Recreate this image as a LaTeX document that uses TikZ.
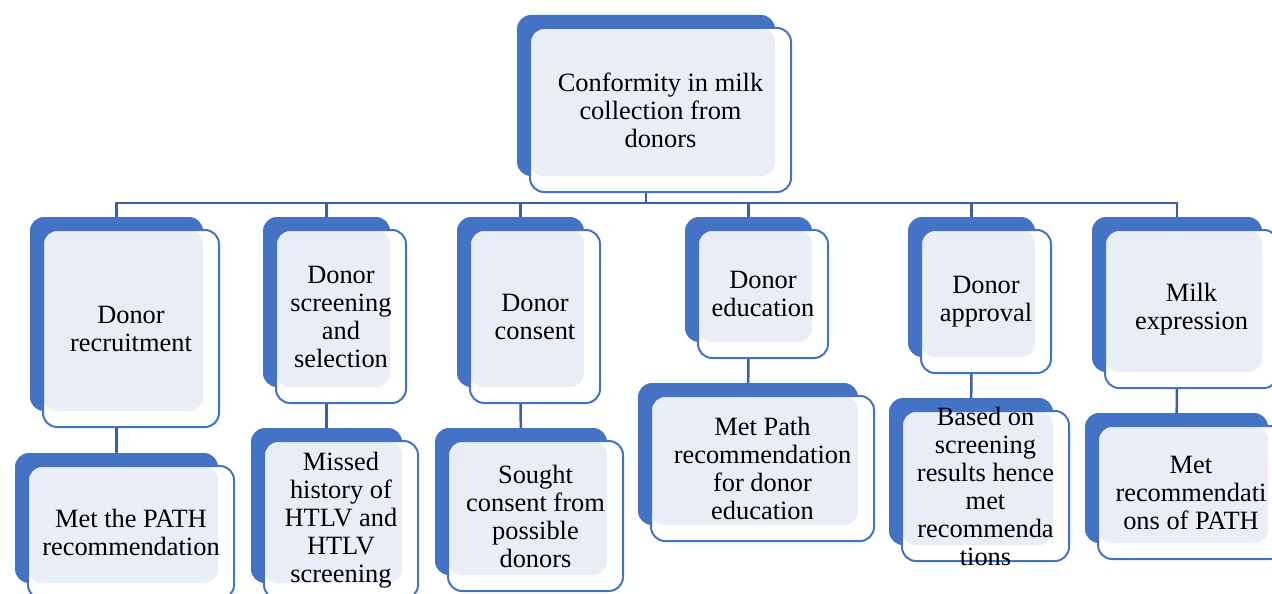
\documentclass[tikz,border=0pt]{standalone}
\usepackage{fontspec}
\setmainfont{Liberation Serif}
\usepackage{xcolor}
\usetikzlibrary{calc,backgrounds}
\definecolor{cardblue}{HTML}{4472C4}
\definecolor{cardlight}{HTML}{E9EDF6}
\definecolor{linkblue}{HTML}{3D5FA6}

\begin{document}
\begin{tikzpicture}[x=1pt,y=-1pt,
    card/.style={draw=cardblue, line width=2pt, rounded corners=14pt, inner sep=0pt, outer sep=0pt},
    cardtext/.style={align=center, inner sep=0pt, font=\fontsize{26.4}{28}\selectfont},
    link/.style={draw=linkblue, line width=2.5pt}]
    \useasboundingbox (0,0) rectangle (1272,594);

    % Top box
    \node[card, minimum width=261pt, minimum height=164pt] (top) at (660.5,110) {};
    \node[cardtext] (top-t) at (top) {Conformity in milk\\collection from\\donors};

    % Second row
    \node[card, minimum width=176pt, minimum height=197pt] (rec) at (131,328.5) {};
    \node[cardtext] (rec-t) at (rec) {Donor\\recruitment};
    \node[card, minimum width=130pt, minimum height=173pt] (scr) at (341,316.5) {};
    \node[cardtext] (scr-t) at (scr) {Donor\\screening\\and\\selection};
    \node[card, minimum width=130pt, minimum height=173pt] (con) at (535,316.5) {};
    \node[cardtext] (con-t) at (con) {Donor\\consent};
    \node[card, minimum width=130pt, minimum height=128pt] (edu) at (763,294) {};
    \node[cardtext] (edu-t) at (edu) {Donor\\education};
    \node[card, minimum width=130pt, minimum height=143pt] (app) at (986,301.5) {};
    \node[cardtext] (app-t) at (app) {Donor\\approval};
    \node[card, minimum width=173pt, minimum height=158pt] (milk) at (1191.5,309) {};
    \node[cardtext] (milk-t) at (milk) {Milk\\expression};

    % Third row
    \node[card, minimum width=206pt, minimum height=133pt] (rec-c) at (131,532.5) {};
    \node[cardtext] (rec-c-t) at (rec-c) {Met the PATH\\recommendation};
    \node[card, minimum width=154pt, minimum height=158pt] (scr-c) at (341,520) {};
    \node[cardtext] (scr-c-t) at (scr-c) {Missed\\history of\\HTLV and\\HTLV\\screening};
    \node[card, minimum width=175pt, minimum height=150pt] (con-c) at (535.5,516) {};
    \node[cardtext] (con-c-t) at (con-c) {Sought\\consent from\\possible\\donors};
    \node[card, minimum width=223pt, minimum height=145pt] (edu-c) at (762.5,468.5) {};
    \node[cardtext] (edu-c-t) at (edu-c) {Met Path\\recommendation\\for donor\\education};
    \node[card, minimum width=167pt, minimum height=150pt] (app-c) at (985.5,486) {};
    \node[cardtext] (app-c-t) at (app-c) {Based on\\screening\\results hence\\met\\recommenda\\tions};
    \node[card, minimum width=186pt, minimum height=133pt] (milk-c) at (1191,492.5) {};
    \node[cardtext] (milk-c-t) at (milk-c) {Met\\recommendati\\ons of PATH};

    \begin{scope}[on background layer]
        % Connectors
        \coordinate (bus) at ($(top.south)+(-14.5,11)$);
        \draw[link] ($(top.south)+(-14.5,0)$) -- (bus);
        \foreach \n in {rec,scr,con,edu,app,milk} {
            \draw[link] ($(\n.north)+(-14.5,0)$) |- (bus);
            \draw[link] ($(\n.south)+(-14.5,0)$) -- ($(\n-c.north)+(-14.5,0)$);
        }
        % Card backs
        \foreach \n in {top,rec,scr,con,edu,app,milk,rec-c,scr-c,con-c,edu-c,app-c,milk-c} {
            \fill[cardblue, rounded corners=14pt] ($(\n.north west)+(-13,-13)$) rectangle ($(\n.south east)+(-16,-16)$);
            \fill[white, rounded corners=14pt] (\n.north west) rectangle (\n.south east);
            \fill[cardlight, rounded corners=14pt] (\n.north west) rectangle ($(\n.south east)+(-16,-16)$);
        }
    \end{scope}
\end{tikzpicture}
\end{document}
